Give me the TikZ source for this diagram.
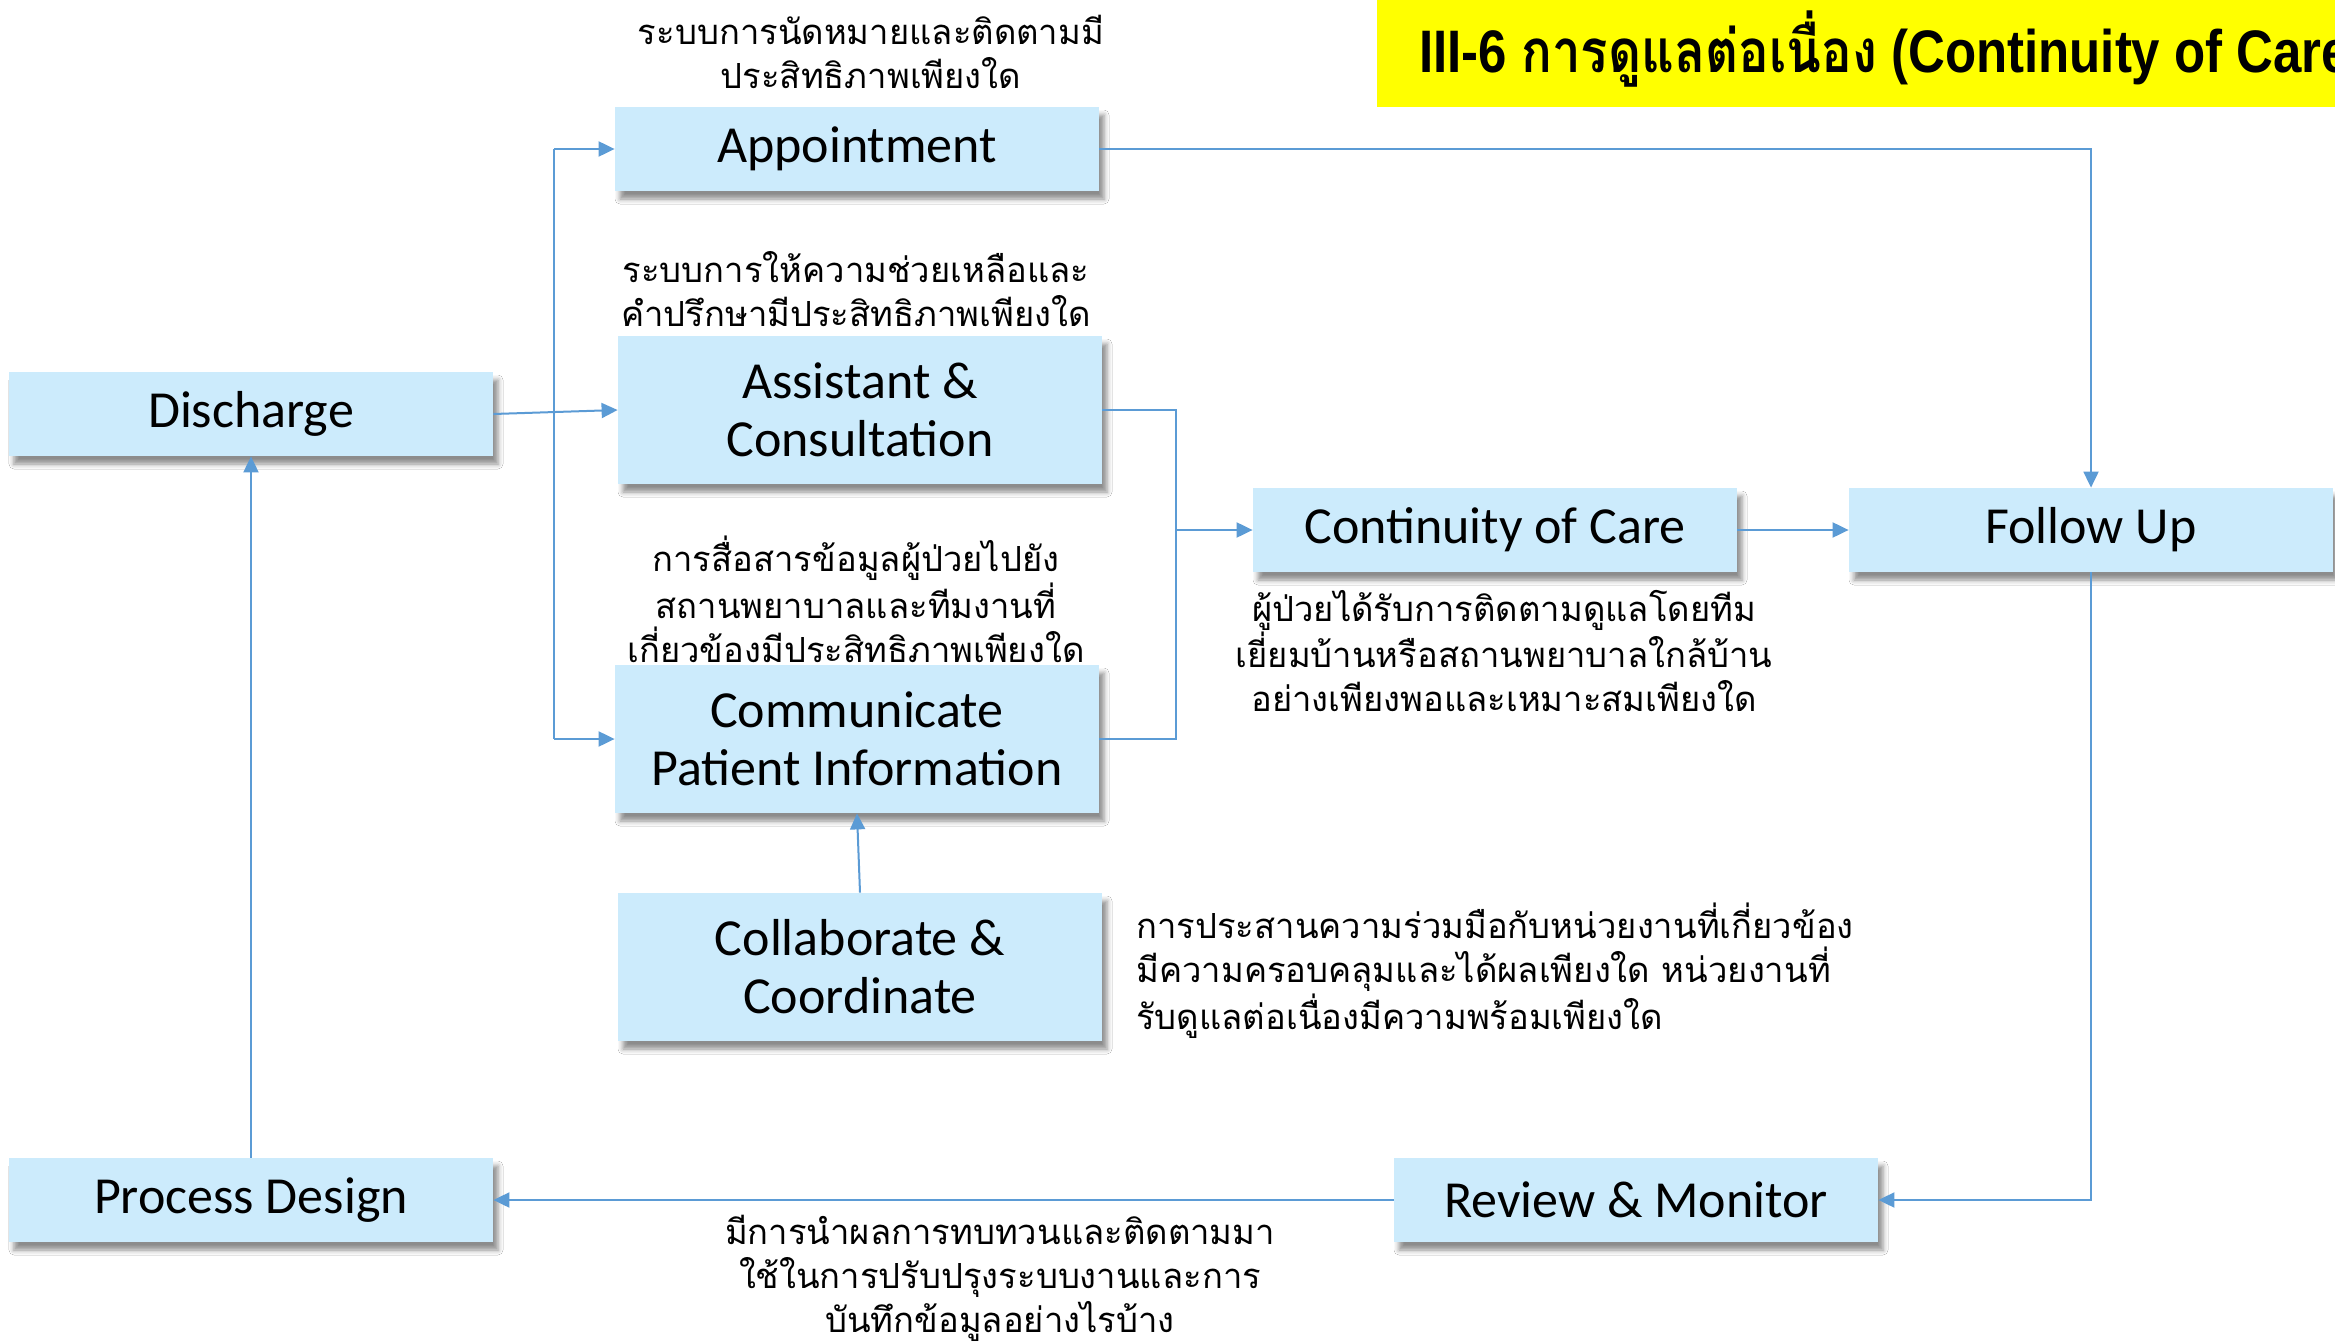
\documentclass[tikz,border=0pt]{standalone}
\usepackage{fontspec}
\setmainfont{Carlito}
\newfontfamily\thai[Script=Thai]{Loma}
\newfontfamily\titlelat[FakeStretch=0.85]{Liberation Sans}
\newfontfamily\titlethai[Script=Thai,FakeStretch=0.85]{Loma}
\usetikzlibrary{arrows.meta,shadows.blur}
\definecolor{boxfill}{RGB}{204,235,252}
\definecolor{linkblue}{RGB}{91,155,213}
\definecolor{banner}{RGB}{255,255,0}

\tikzset{
  stage/.style={fill=boxfill, minimum width=242pt, minimum height=42pt,
    inner sep=0pt, align=center, font=\fontsize{26}{29}\selectfont,
    blur shadow={shadow xshift=2.5pt, shadow yshift=-4pt,
      shadow blur radius=2.5pt, shadow opacity=45}},
  tall/.style={minimum height=74pt},
  note/.style={font=\thai\fontsize{17.3}{22}\selectfont, align=center, inner sep=0pt},
  conn/.style={draw=linkblue, line width=1pt},
  arr/.style={conn, -{Triangle[length=8pt,width=7.5pt]}}
}

\begin{document}
\begin{tikzpicture}[x=0.5pt,y=-0.5pt]
  \useasboundingbox (0,0) rectangle (2335,1343);
  \fill[white] (0,0) rectangle (2335,1343);

  % title banner
  \fill[banner] (1377,0) rectangle (2335,107);
  \begin{scope}
    \clip (1377,0) rectangle (2335,107);
    \node[anchor=base west, inner sep=0pt,
      font=\titlelat\bfseries\fontsize{30}{33}\selectfont] (title) at (1419,73)
      {III-6 {\titlethai\bfseries การดูแลต่อเนื่อง} (Continuity of Care)};
  \end{scope}

  % process stages
  \node[stage] (dis) at (251,414) {Discharge};
  \node[stage] (app) at (857,149) {Appointment};
  \node[stage,tall] (ast) at (860,410) {Assistant \&\\Consultation};
  \node[stage,tall] (com) at (857,739) {Communicate\\Patient Information};
  \node[stage,tall] (col) at (860,967) {Collaborate \&\\Coordinate};
  \node[stage] (coc) at (1495,530) {Continuity of Care};
  \node[stage] (fol) at (2091,530) {Follow Up};
  \node[stage] (rev) at (1636,1200) {Review \& Monitor};
  \node[stage] (pro) at (251,1200) {Process Design};

  % guiding questions
  \node[note] (n1) at (871,52) {ระบบการนัดหมายและติดตามมี\\ประสิทธิภาพเพียงใด};
  \node[note] (n2) at (856,289) {ระบบการให้ความช่วยเหลือและ\\คำปรึกษามีประสิทธิภาพเพียงใด};
  \node[note] (n3) at (856,599) {การสื่อสารข้อมูลผู้ป่วยไปยัง\\สถานพยาบาลและทีมงานที่\\เกี่ยวข้องมีประสิทธิภาพเพียงใด};
  \node[note] (n4) at (1504,651) {ผู้ป่วยได้รับการติดตามดูแลโดยทีม\\เยี่ยมบ้านหรือสถานพยาบาลใกล้บ้าน\\อย่างเพียงพอและเหมาะสมเพียงใด};
  \node[note, align=left, anchor=west] (n5) at (1136,971) {การประสานความร่วมมือกับหน่วยงานที่เกี่ยวข้อง\\มีความครอบคลุมและได้ผลเพียงใด หน่วยงานที่\\รับดูแลต่อเนื่องมีความพร้อมเพียงใด};
  \node[note] (n6) at (1000,1278) {มีการนำผลการทบทวนและติดตามมา\\ใช้ในการปรับปรุงระบบงานและการ\\บันทึกข้อมูลอย่างไรบ้าง};

  % junction points
  \coordinate (jt) at (554,149);
  \coordinate (jb) at (554,739);
  \coordinate (jr) at (1176,530);

  % connectors
  \draw[conn] (jt) -- (jb);
  \draw[arr] (dis.east) -- (ast.west);
  \draw[arr] (jt) -- (app.west);
  \draw[arr] (jb) -- (com.west);
  \draw[arr] (app.east) -| (fol.north);
  \draw[conn] (ast.east) -| (jr);
  \draw[conn] (com.east) -| (jr);
  \draw[arr] (jr) -- (coc.west);
  \draw[arr] (coc.east) -- (fol.west);
  \draw[arr] (fol.south) |- (rev.east);
  \draw[arr] (rev.west) -- (pro.east);
  \draw[arr] (pro.north) -- (dis.south);
  \draw[arr] (col.north) -- (com.south);
\end{tikzpicture}
\end{document}
